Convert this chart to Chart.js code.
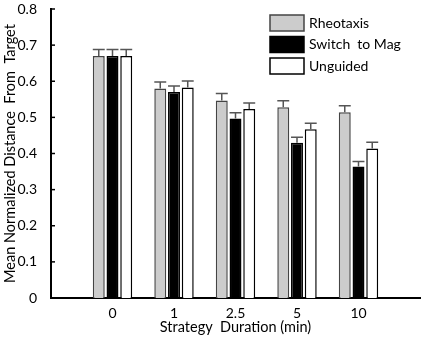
<!DOCTYPE html>
<html>
<head>
<meta charset="utf-8">
<script src="https://cdn.jsdelivr.net/npm/chart.js@4"></script>
<style>
    body { margin: 0; background: #fff; }
</style>
</head>
<body>
<canvas id="chart" width="425" height="340"></canvas>
<script>
// Data
const durations = ['0', '1', '2.5', '5', '10'];
const seriesNames = ['Rheotaxis', 'Switch  to Mag', 'Unguided'];
const rheotaxis = [0.670, 0.580, 0.547, 0.528, 0.514];
const switchToMag = [0.670, 0.570, 0.497, 0.430, 0.364];
const unguided = [0.670, 0.583, 0.523, 0.467, 0.414];
const rheotaxisErr = [0.018, 0.018, 0.019, 0.018, 0.018];
const switchToMagErr = [0.018, 0.017, 0.016, 0.015, 0.014];
const unguidedErr = [0.018, 0.018, 0.017, 0.017, 0.017];
const yTickLabels = ['0', '0.1', '0.2', '0.3', '0.4', '0.5', '0.6', '0.7', '0.8'];

const FONT = 'Lato';

// empty slots at both ends so the groups sit at 1..5 on a 0..6 axis
const labels = [''].concat(durations, ['']);
function pad(arr) { return [null].concat(arr, [null]); }

const errors = [rheotaxisErr, switchToMagErr, unguidedErr];

const errorBars = {
    id: 'errorBars',
    afterDatasetsDraw: function (chart) {
        const ctx = chart.ctx;
        const y = chart.scales.y;
        ctx.save();
        ctx.strokeStyle = '#555';
        ctx.lineWidth = 1.5;
        chart.data.datasets.forEach(function (ds, i) {
            const meta = chart.getDatasetMeta(i);
            meta.data.forEach(function (bar, j) {
                const v = ds.data[j];
                if (v == null) return;
                const e = errors[i][j - 1];
                const top = y.getPixelForValue(v + e);
                const half = bar.width * 0.5;
                ctx.beginPath();
                ctx.moveTo(bar.x, bar.y);
                ctx.lineTo(bar.x, top);
                ctx.moveTo(bar.x - half, top);
                ctx.lineTo(bar.x + half, top);
                ctx.stroke();
            });
        });
        ctx.restore();
    }
};

const extras = {
    id: 'extras',
    afterDraw: function (chart) {
        const ctx = chart.ctx;
        const y = chart.scales.y;
        const left = chart.chartArea.left;
        ctx.save();
        // inward y ticks
        ctx.strokeStyle = '#000';
        ctx.lineWidth = 1.5;
        y.ticks.forEach(function (t) {
            const py = y.getPixelForValue(t.value);
            ctx.beginPath();
            ctx.moveTo(left, py);
            ctx.lineTo(left + 4, py);
            ctx.stroke();
        });
        // legend
        ctx.font = '14px ' + FONT;
        ctx.textBaseline = 'middle';
        ctx.textAlign = 'left';
        chart.data.datasets.forEach(function (ds, i) {
            const bx = 270, by = 15 + i * 21.5;
            ctx.fillStyle = ds.backgroundColor;
            ctx.fillRect(bx, by, 34, 16);
            ctx.strokeStyle = ds.borderColor;
            ctx.lineWidth = 1.5;
            ctx.strokeRect(bx, by, 34, 16);
            ctx.fillStyle = '#000';
            ctx.fillText(ds.label, 309, by + 8);
        });
        ctx.restore();
    }
};

new Chart(document.getElementById('chart'), {
    type: 'bar',
    data: {
        labels: labels,
        datasets: [{
            label: seriesNames[0],
            data: pad(rheotaxis),
            backgroundColor: '#cccccc',
            borderColor: '#444',
            borderWidth: 1.5
        }, {
            label: seriesNames[1],
            data: pad(switchToMag),
            backgroundColor: '#000000',
            borderColor: '#000',
            borderWidth: 1.5
        }, {
            label: seriesNames[2],
            data: pad(unguided),
            backgroundColor: '#ffffff',
            borderColor: '#000',
            borderWidth: 1.5
        }]
    },
    options: {
        responsive: false,
        animation: false,
        categoryPercentage: 0.67,
        barPercentage: 0.87,
        layout: { padding: { top: 9, right: 5, left: 0, bottom: 0 } },
        plugins: {
            legend: { display: false },
            tooltip: { enabled: false }
        },
        scales: {
            x: {
                offset: false,
                grid: { display: false, drawTicks: false },
                border: { display: true, color: '#000', width: 2 },
                ticks: { color: '#000', font: { family: FONT, size: 14 }, padding: 7, maxRotation: 0, autoSkip: false },
                title: {
                    display: true,
                    text: 'Strategy  Duration (min)',
                    color: '#000',
                    font: { family: FONT, size: 14.5 },
                    padding: { top: 0, bottom: 4 }
                },
                afterFit: function (scale) {
                    scale.height = 42;
                    scale.paddingLeft = 0;
                    scale.paddingRight = 0;
                }
            },
            y: {
                min: 0,
                max: 0.8,
                grid: { display: false },
                border: { display: true, color: '#000', width: 2 },
                ticks: {
                    stepSize: 0.1,
                    color: '#000',
                    font: { family: FONT, size: 14 },
                    padding: 6,
                    callback: function (v, i) { return yTickLabels[i]; }
                },
                title: {
                    display: true,
                    text: 'Mean Normalized Distance  From  Target',
                    color: '#000',
                    font: { family: FONT, size: 14.5 },
                    padding: { top: 2, bottom: 0 }
                },
                afterFit: function (scale) {
                    scale.width = 51;
                    scale.paddingTop = 0;
                    scale.paddingBottom = 0;
                }
            }
        }
    },
    plugins: [errorBars, extras]
});
</script>
</body>
</html>
